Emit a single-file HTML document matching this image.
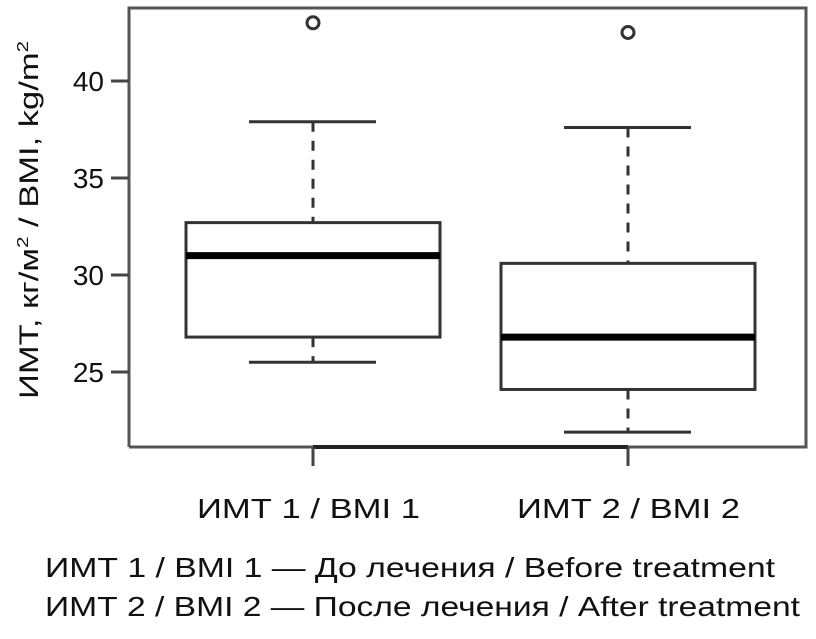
<!DOCTYPE html>
<html><head><meta charset="utf-8"><style>
body{margin:0;background:#fff;width:816px;height:634px;overflow:hidden}
text{font-family:"Liberation Sans","DejaVu Sans",sans-serif;fill:#111}
</style></head><body>
<svg width="816" height="634" xmlns="http://www.w3.org/2000/svg">
<g id="frame"></g>
<g id="ticks"></g>
<g id="marks"></g>
<text transform="translate(38,220) rotate(-90)" text-anchor="middle" font-size="27" textLength="358" lengthAdjust="spacingAndGlyphs">ИМТ, кг/м<tspan font-size="16" dy="-10">2</tspan><tspan dy="10"> / BMI, kg/m</tspan><tspan font-size="16" dy="-10">2</tspan></text>
<text x="197" y="518" font-size="28" textLength="223" lengthAdjust="spacingAndGlyphs">ИМТ 1 / BMI 1</text>
<text x="517" y="518" font-size="28" textLength="223" lengthAdjust="spacingAndGlyphs">ИМТ 2 / BMI 2</text>
<text x="45" y="577" font-size="28" textLength="730" lengthAdjust="spacingAndGlyphs">ИМТ 1 / BMI 1 — До лечения / Before treatment</text>
<text x="45" y="616" font-size="28" textLength="755" lengthAdjust="spacingAndGlyphs">ИМТ 2 / BMI 2 — После лечения / After treatment</text>
</svg>
<script>
const categories=["BMI 1","BMI 2"];
const whiskerLow=[25.5,21.9];
const q1=[26.8,24.1];
const median=[31.0,26.8];
const q3=[32.7,30.6];
const whiskerHigh=[37.9,37.6];
const outliers=[43.0,42.5];
const yTicks=[25,30,35,40];
const NS="http://www.w3.org/2000/svg";
function y(v){return 275-(v-30)*19.4;}
function x(i){return 313+i*315;}
function el(tag,attrs,parent){const e=document.createElementNS(NS,tag);for(const k in attrs)e.setAttribute(k,attrs[k]);document.getElementById(parent).appendChild(e);return e;}
const st="#333";
let f=el('path',{d:'M129,447 L129,8 L806,8 L806,447 L129,447',fill:'none',stroke:'#555','stroke-width':3},'frame');


let xa=el('line',{x1:313,x2:628,y1:447,y2:447,stroke:'#222','stroke-width':4},'frame');


yTicks.forEach(t=>{
 let l=el('line',{x1:111,x2:129,y1:y(t),y2:y(t),stroke:'#444','stroke-width':3},'ticks');
 
 
 let tx=el('text',{x:104,y:y(t)+10,'text-anchor':'end','font-size':28},'ticks');tx.textContent=t;
 
 
});
categories.forEach((c,i)=>{
 const cx=x(i);
 let tk=el('line',{x1:cx,x2:cx,y1:447,y2:466,stroke:'#444','stroke-width':3},'marks');
 
 
 let w1=el('line',{x1:cx,x2:cx,y1:y(whiskerHigh[i]),y2:y(q3[i]),stroke:st,'stroke-width':3,'stroke-dasharray':'10,9'},'marks');
 
 
 let w2=el('line',{x1:cx,x2:cx,y1:y(q1[i]),y2:y(whiskerLow[i]),stroke:st,'stroke-width':3,'stroke-dasharray':'10,9'},'marks');
 
 
 [whiskerHigh[i],whiskerLow[i]].forEach(v=>{
  let cp=el('line',{x1:cx-64,x2:cx+63,y1:y(v),y2:y(v),stroke:st,'stroke-width':3},'marks');
  
  
 });
 let b=el('rect',{x:cx-127,y:y(q3[i]),width:254,height:y(q1[i])-y(q3[i]),fill:'#fff',stroke:st,'stroke-width':3},'marks');
 
 
 let m=el('line',{x1:cx-127,x2:cx+127,y1:y(median[i]),y2:y(median[i]),stroke:'#000','stroke-width':7},'marks');
 
 
 let o=el('circle',{cx:cx,cy:y(outliers[i]),r:6,fill:'none',stroke:st,'stroke-width':3},'marks');
 
 
});
</script>
</body></html>
